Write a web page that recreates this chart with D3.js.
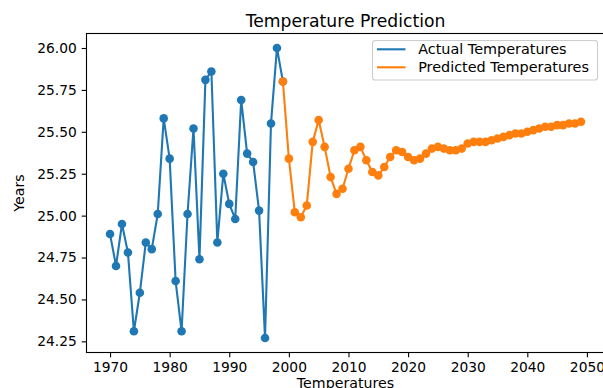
<!DOCTYPE html>
<html>
<head>
<meta charset="utf-8">
<script src="https://cdn.jsdelivr.net/npm/d3@7"></script>
<style>
  html, body { margin: 0; padding: 0; background: #fff; }
  svg { display: block; }
  text { font-family: "DejaVu Sans", sans-serif; fill: #000; }
</style>
</head>
<body>
<svg id="chart" width="603" height="388"></svg>
<script>
// Observed series (1970–1999)
const actualYears = [1970, 1971, 1972, 1973, 1974, 1975, 1976, 1977, 1978, 1979,
                     1980, 1981, 1982, 1983, 1984, 1985, 1986, 1987, 1988, 1989,
                     1990, 1991, 1992, 1993, 1994, 1995, 1996, 1997, 1998, 1999];
const actualValues = [24.89, 24.70, 24.95, 24.78, 24.31, 24.54, 24.84, 24.80, 25.01, 25.58,
                      25.34, 24.61, 24.31, 25.01, 25.52, 24.74, 25.81, 25.86, 24.84, 25.25,
                      25.07, 24.98, 25.69, 25.37, 25.32, 25.03, 24.27, 25.55, 26.00, 25.80];

// Forecast series (1999–2049)
const predictedYears = [1999, 2000, 2001, 2002, 2003, 2004, 2005, 2006, 2007, 2008,
                        2009, 2010, 2011, 2012, 2013, 2014, 2015, 2016, 2017, 2018,
                        2019, 2020, 2021, 2022, 2023, 2024, 2025, 2026, 2027, 2028,
                        2029, 2030, 2031, 2032, 2033, 2034, 2035, 2036, 2037, 2038,
                        2039, 2040, 2041, 2042, 2043, 2044, 2045, 2046, 2047, 2048, 2049];
const predictedValues = [25.80, 25.34, 25.02, 24.99, 25.06, 25.44, 25.57, 25.41, 25.23, 25.13,
                         25.16, 25.28, 25.39, 25.41, 25.33, 25.26, 25.24, 25.29, 25.35, 25.39,
                         25.38, 25.35, 25.33, 25.34, 25.37, 25.40, 25.41, 25.40, 25.39, 25.39,
                         25.40, 25.43, 25.44, 25.44, 25.44, 25.45, 25.46, 25.47, 25.48, 25.49,
                         25.49, 25.50, 25.51, 25.52, 25.53, 25.53, 25.54, 25.54, 25.55, 25.55, 25.56];

const xTickValues = [1970, 1980, 1990, 2000, 2010, 2020, 2030, 2040, 2050];
const yTickValues = [24.25, 24.50, 24.75, 25.00, 25.25, 25.50, 25.75, 26.00];

const titleText = "Temperature Prediction";
const xLabelText = "Temperatures";
const yLabelText = "Years";
const seriesNames = ["Actual Temperatures", "Predicted Temperatures"];
const seriesColors = ["#1f77b4", "#ff7f0e"];

// Plot area
const plot = { left: 86.5, right: 604.5, top: 33.5, bottom: 352.5 };

// Data limits with 5% margins on each side
function paddedExtent(values) {
  const [lo, hi] = d3.extent(values);
  const pad = (hi - lo) * 0.05;
  return [lo - pad, hi + pad];
}

const allYears = actualYears.concat(predictedYears);
const allValues = actualValues.concat(predictedValues);

const x = d3.scaleLinear().domain(paddedExtent(allYears)).range([plot.left, plot.right]);
const y = d3.scaleLinear().domain(paddedExtent(allValues)).range([plot.bottom, plot.top]);

const svg = d3.select("#chart");

const series = [
  { name: seriesNames[0], color: seriesColors[0],
    points: actualYears.map((yr, i) => ({ year: yr, value: actualValues[i] })) },
  { name: seriesNames[1], color: seriesColors[1],
    points: predictedYears.map((yr, i) => ({ year: yr, value: predictedValues[i] })) }
];

const line = d3.line().x(d => x(d.year)).y(d => y(d.value));

const marks = svg.append("g");
series.forEach(s => {
  const g = marks.append("g");
  g.append("path")
    .datum(s.points)
    .attr("fill", "none")
    .attr("stroke", s.color)
    .attr("stroke-width", 2.1)
    .attr("stroke-linejoin", "round")
    .attr("stroke-linecap", "square")
    .attr("d", line);
  g.selectAll("circle")
    .data(s.points)
    .join("circle")
    .attr("cx", d => x(d.year))
    .attr("cy", d => y(d.value))
    .attr("r", 4.3)
    .attr("fill", s.color);
});

// Axes
const tickLen = 4.86;
const xAxis = d3.axisBottom(x)
  .tickValues(xTickValues)
  .tickFormat(d3.format("d"))
  .tickSizeInner(tickLen).tickSizeOuter(0).tickPadding(4.86);
const yAxis = d3.axisLeft(y)
  .tickValues(yTickValues)
  .tickFormat(d3.format(".2f"))
  .tickSizeInner(tickLen).tickSizeOuter(0).tickPadding(4.86);

const gx = svg.append("g").attr("transform", `translate(0,${plot.bottom})`).call(xAxis);
const gy = svg.append("g").attr("transform", `translate(${plot.left},0)`).call(yAxis);
[gx, gy].forEach(g => {
  g.select(".domain").remove();
  g.selectAll(".tick line").attr("stroke", "#000").attr("stroke-width", 1.1);
  g.selectAll(".tick text")
    .attr("font-family", "DejaVu Sans")
    .attr("font-size", 13.8)
    .attr("fill", "#000");
});

// Frame
svg.append("rect")
  .attr("x", plot.left).attr("y", plot.top)
  .attr("width", plot.right - plot.left)
  .attr("height", plot.bottom - plot.top)
  .attr("fill", "none")
  .attr("stroke", "#000")
  .attr("stroke-width", 1.1);

// Title and axis labels
const cx = (plot.left + plot.right) / 2;
svg.append("text")
  .attr("x", cx).attr("y", 26.5)
  .attr("text-anchor", "middle")
  .attr("font-size", 17.2)
  .text(titleText);

svg.append("text")
  .attr("x", cx).attr("y", 387.5)
  .attr("text-anchor", "middle")
  .attr("font-size", 14.2)
  .text(xLabelText);

svg.append("text")
  .attr("transform", `translate(23.5,${(plot.top + plot.bottom) / 2}) rotate(-90)`)
  .attr("text-anchor", "middle")
  .attr("font-size", 14.2)
  .text(yLabelText);

// Legend
const legend = svg.append("g");
legend.append("rect")
  .attr("x", 372.5).attr("y", 40.5)
  .attr("width", 225).attr("height", 39.5)
  .attr("rx", 2.8).attr("ry", 2.8)
  .attr("fill", "#fff").attr("fill-opacity", 0.8)
  .attr("stroke", "#cccccc").attr("stroke-width", 1.1);

series.forEach((s, i) => {
  const ly = 49.3 + i * 18;
  legend.append("line")
    .attr("x1", 377).attr("x2", 405.5)
    .attr("y1", ly).attr("y2", ly)
    .attr("stroke", s.color)
    .attr("stroke-width", 2.1);
  legend.append("text")
    .attr("x", 418.2).attr("y", ly + 5)
    .attr("font-size", 14.4)
    .text(s.name);
});
</script>
</body>
</html>
